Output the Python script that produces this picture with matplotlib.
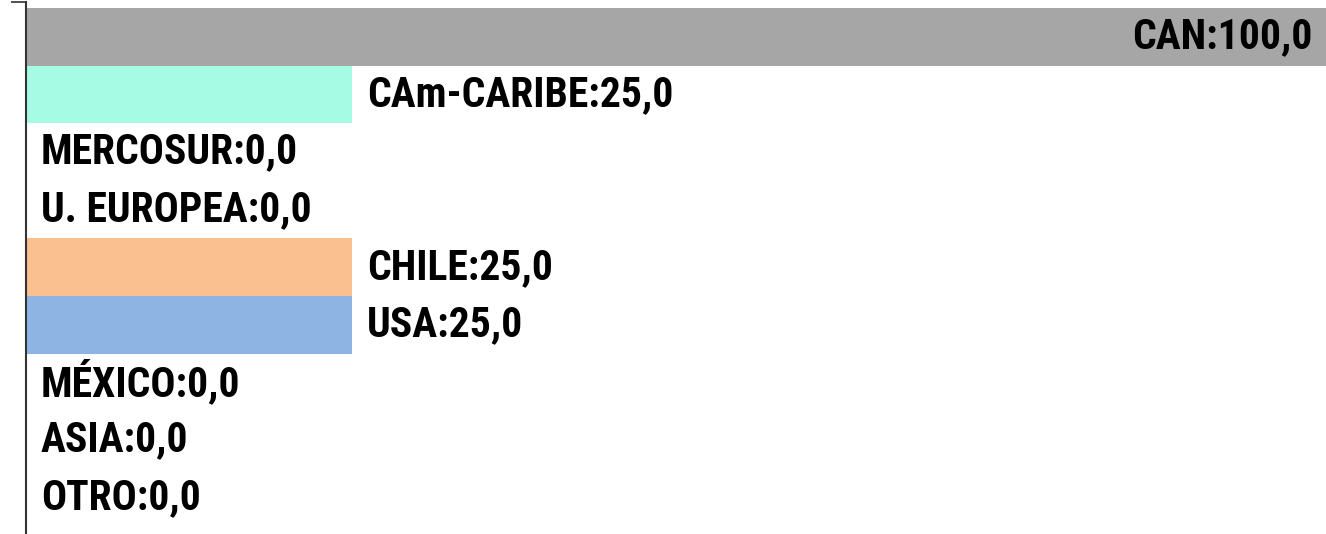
import matplotlib
matplotlib.use("Agg")
import matplotlib.pyplot as plt

categories = ["CAN", "CAm-CARIBE", "MERCOSUR", "U. EUROPEA", "CHILE", "USA", "MÉXICO", "ASIA", "OTRO"]
values = [100.0, 25.0, 0.0, 0.0, 25.0, 25.0, 0.0, 0.0, 0.0]
colors = ["#a6a6a6", "#a6fbe4", "#ffffff", "#ffffff", "#fac090", "#8eb4e3", "#ffffff", "#ffffff", "#ffffff"]

W, H = 1326, 534
fig = plt.figure(figsize=(W / 100, H / 100), dpi=100)
left_px, right_px = 26, 1330
top_px, bot_px = 2, 534
ax = fig.add_axes([left_px / W, 1 - bot_px / H, (right_px - left_px) / W, (bot_px - top_px) / H])

ypos = list(range(len(categories)))
ax.barh(ypos, values, height=1.0, color=colors, edgecolor="none")
ax.set_xlim(0, 100)
ax.set_ylim(8.632, -0.604)

font = ["Roboto Condensed", "Liberation Sans", "DejaVu Sans"]
vmax = max(values)
for y, cat, v in zip(ypos, categories, values):
    label = cat + ":" + f"{v:.1f}".replace(".", ",")
    if v >= vmax:
        ax.annotate(label, xy=(v, y), xytext=(-17, 0), textcoords="offset pixels",
                    ha="right", va="center", fontsize=30, fontweight="bold",
                    family=font, annotation_clip=False)
    else:
        ax.annotate(label, xy=(v, y), xytext=(15, 0), textcoords="offset pixels",
                    ha="left", va="center", fontsize=30, fontweight="bold",
                    family=font)

for s in ["top", "right", "bottom"]:
    ax.spines[s].set_visible(False)
ax.spines["left"].set_linewidth(1.5)
ax.spines["left"].set_color("#333333")
ax.set_xticks([])
ax.set_yticks([-0.604])
ax.set_yticklabels([""])
ax.tick_params(axis="y", length=10.8, width=1.2, color="#333333")

fig.savefig("out.png", dpi=100)
